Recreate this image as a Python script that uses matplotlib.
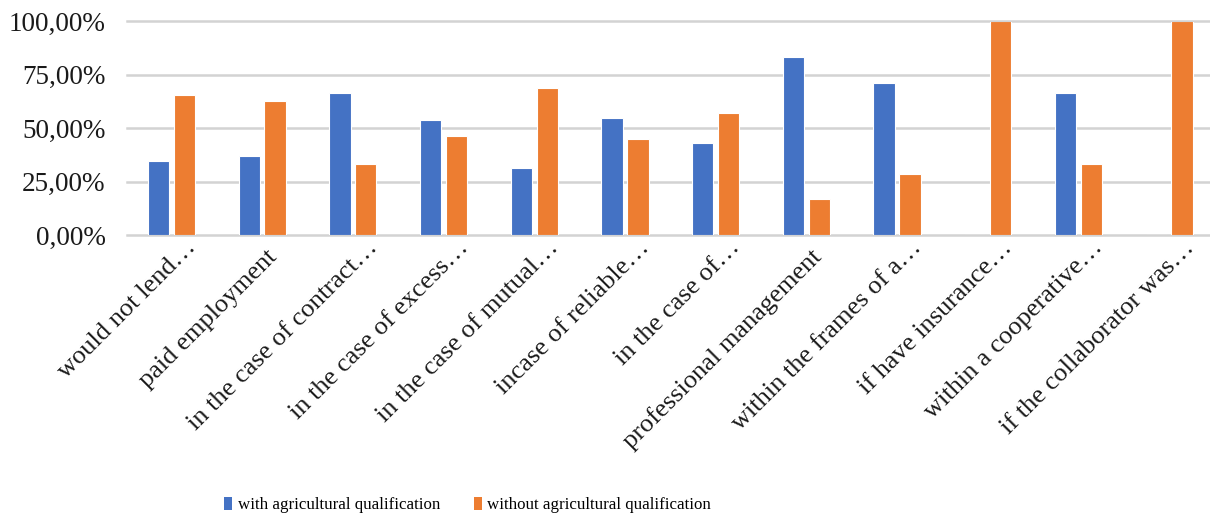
import matplotlib
matplotlib.use("Agg")
import matplotlib.pyplot as plt
import matplotlib.transforms as mtransforms
from matplotlib.patches import Patch
import numpy as np

categories = [
    "would not lend\u2026",
    "paid employment  ",
    "in the case of contract\u2026",
    "in the case of excess\u2026",
    "in the case of mutual\u2026",
    "incase of reliable\u2026",
    "in the case of\u2026",
    "professional management  ",
    "within the frames of a\u2026",
    "if have insurance\u2026",
    "within a cooperative\u2026",
    "if the collaborator was\u2026",
]
with_qual = [34.6, 37.1, 66.7, 53.8, 31.2, 55.0, 42.9, 83.3, 71.4, 0.0, 66.7, 0.0]
without_qual = [65.4, 62.9, 33.3, 46.2, 68.8, 45.0, 57.1, 16.7, 28.6, 100.0, 33.3, 100.0]
series_names = ["with agricultural qualification", "without agricultural qualification"]
yticks = [0, 25, 50, 75, 100]
ytick_labels = ["0,00%", "25,00%", "50,00%", "75,00%", "100,00%"]

BLUE = "#4472C4"
ORANGE = "#ED7D31"

plt.rcParams["font.family"] = ["Liberation Serif", "DejaVu Serif"]

W, H = 1210, 518
fig = plt.figure(figsize=(W / 100, H / 100), dpi=100)
ax = fig.add_axes([127 / W, 1 - 235 / H, (1210 - 127) / W, (235 - 21.5) / H])

x = np.arange(len(categories))
bw = 0.235
off = 0.143
ax.bar(x - off, with_qual, width=bw, color=BLUE, edgecolor="white", linewidth=0.8, zorder=3)
ax.bar(x + off, without_qual, width=bw, color=ORANGE, edgecolor="white", linewidth=0.8, zorder=3)

ax.set_xlim(-0.49, 11.45)
ax.set_ylim(0, 100)
ax.set_yticks(yticks)
ax.set_yticklabels(ytick_labels, fontsize=19.5, color="#1a1a1a")
ax.yaxis.grid(True, color="#D3D3D3", linewidth=1.8, zorder=0)
for gl in ax.get_ygridlines():
    gl.set_clip_on(False)
ax.set_axisbelow(True)
for s in ax.spines.values():
    s.set_visible(False)
ax.tick_params(axis="y", length=0, pad=15.5)
ax.tick_params(axis="x", length=0, pad=0)

ax.set_xticks(x)
ax.set_xticklabels(categories, rotation=45, ha="right", va="baseline",
                   rotation_mode="anchor", fontsize=19, color="#1a1a1a")
offset = mtransforms.ScaledTranslation(25.5 / 100, -13.5 / 100, fig.dpi_scale_trans)
for lab in ax.get_xticklabels():
    lab.set_transform(lab.get_transform() + offset)

handles = [Patch(facecolor=BLUE, edgecolor="none"), Patch(facecolor=ORANGE, edgecolor="none")]
fig.legend(handles, series_names, loc="center left", bbox_to_anchor=(224 / W, 1 - 505 / H),
           ncol=2, frameon=False, fontsize=12.2, handlelength=0.5, handleheight=0.85,
           handletextpad=0.3, columnspacing=2.0, borderpad=0, borderaxespad=0)

fig.savefig("out.png", dpi=100)
